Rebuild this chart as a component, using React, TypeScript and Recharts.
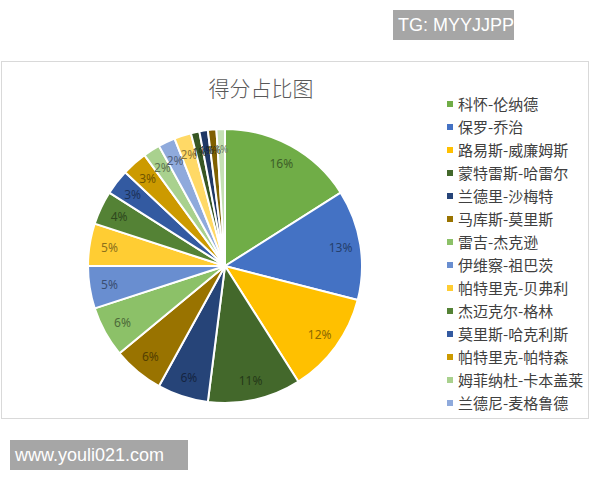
import { PieChart, Pie, Cell, Legend } from "recharts";

const players = [
    "科怀-伦纳德",
    "保罗-乔治",
    "路易斯-威廉姆斯",
    "蒙特雷斯-哈雷尔",
    "兰德里-沙梅特",
    "马库斯-莫里斯",
    "雷吉-杰克逊",
    "伊维察-祖巴茨",
    "帕特里克-贝弗利",
    "杰迈克尔-格林",
    "莫里斯-哈克利斯",
    "帕特里克-帕特森",
    "姆菲纳杜-卡本盖莱",
    "兰德尼-麦格鲁德",
];

// share of points, %, clockwise from 12 o'clock (last five are not in the legend)
const shares = [16, 13, 12, 11, 6, 6, 6, 5, 5, 4, 3, 3, 2, 2, 2, 1, 1, 1, 1];

const colors = [
    "#70ad47", "#4472c4", "#ffc000", "#43682b", "#264478", "#997300",
    "#8cc168", "#698ed0", "#ffcd33", "#548235", "#335aa1", "#cc9a00",
    "#a9d18e", "#8faadc", "#ffd966", "#375623", "#203864", "#7f6000", "#c5e0b4",
];

const legendColors = colors.slice(0, players.length);

const data = shares.map((v, i) => ({ name: players[i] ?? "", value: v }));

const RAD = Math.PI / 180;

function darken(hex: string, k: number) {
    const n = parseInt(hex.slice(1), 16);
    const r = Math.round(((n >> 16) & 255) * k);
    const g = Math.round(((n >> 8) & 255) * k);
    const b = Math.round((n & 255) * k);
    return `rgb(${r},${g},${b})`;
}

function renderLabel(props: any) {
    const { cx, cy, midAngle, index, value } = props;
    const r = 117;
    const x = cx + r * Math.cos(-midAngle * RAD);
    const y = cy + r * Math.sin(-midAngle * RAD);
    return (
        <text
            x={x}
            y={y}
            textAnchor="middle"
            dominantBaseline="central"
            fontSize={value < 2 ? 10 : 12}
            fontFamily="'Noto Sans', sans-serif"
            fill={darken(colors[index], 0.55)}
        >
            {`${value}%`}
        </text>
    );
}

function LegendList() {
    return (
        <div style={{ fontFamily: "'Noto Sans CJK SC', sans-serif" }}>
            {players.map((p, i) => (
                <div
                    key={p}
                    style={{ display: "flex", alignItems: "center", height: 23 }}
                >
                    <span
                        style={{
                            width: 6,
                            height: 6,
                            background: legendColors[i],
                            marginRight: 5,
                            display: "inline-block",
                        }}
                    />
                    <span style={{ fontSize: 15, color: "#404040", whiteSpace: "nowrap" }}>{p}</span>
                </div>
            ))}
        </div>
    );
}

const box = {
    position: "absolute" as const,
    background: "#a6a6a6",
    color: "#ffffff",
    fontFamily: "'Liberation Sans', Arial, sans-serif",
    fontSize: 18,
    lineHeight: "30px",
    paddingLeft: 5,
    boxSizing: "border-box" as const,
    height: 30,
    whiteSpace: "nowrap" as const,
    overflow: "hidden",
};

export default function App() {
    return (
        <div style={{ position: "fixed", left: 0, top: 0, width: 600, height: 480, background: "#fff" }}>
            <div style={{ ...box, left: 393, top: 10, width: 121 }}>TG: MYYJJPP</div>
            <div
                style={{
                    position: "absolute",
                    left: 1,
                    top: 61,
                    width: 588,
                    height: 358,
                    border: "1px solid #d9d9d9",
                    boxSizing: "border-box",
                }}
            />
            <div
                style={{
                    position: "absolute",
                    left: 181,
                    top: 73,
                    width: 160,
                    textAlign: "center",
                    fontFamily: "'Noto Sans CJK SC', sans-serif",
                    fontWeight: 300,
                    fontSize: 21,
                    color: "#595959",
                    lineHeight: "28px",
                    whiteSpace: "nowrap",
                }}
            >
                得分占比图
            </div>
            <div style={{ position: "absolute", left: 0, top: 0 }}>
                <PieChart width={600} height={480}>
                    <Pie
                        data={data}
                        dataKey="value"
                        nameKey="name"
                        cx={220}
                        cy={261}
                        outerRadius={137}
                        startAngle={90}
                        endAngle={-270}
                        stroke="#ffffff"
                        strokeWidth={2}
                        label={renderLabel}
                        labelLine={false}
                        isAnimationActive={false}
                    >
                        {data.map((d, i) => (
                            <Cell key={i} fill={colors[i]} />
                        ))}
                    </Pie>
                    <Legend
                        layout="vertical"
                        content={() => <LegendList />}
                        wrapperStyle={{ position: "absolute", left: 447, top: 92, width: 150 }}
                    />
                </PieChart>
            </div>
            <div style={{ ...box, left: 10, top: 440, width: 178 }}>www.youli021.com</div>
        </div>
    );
}
